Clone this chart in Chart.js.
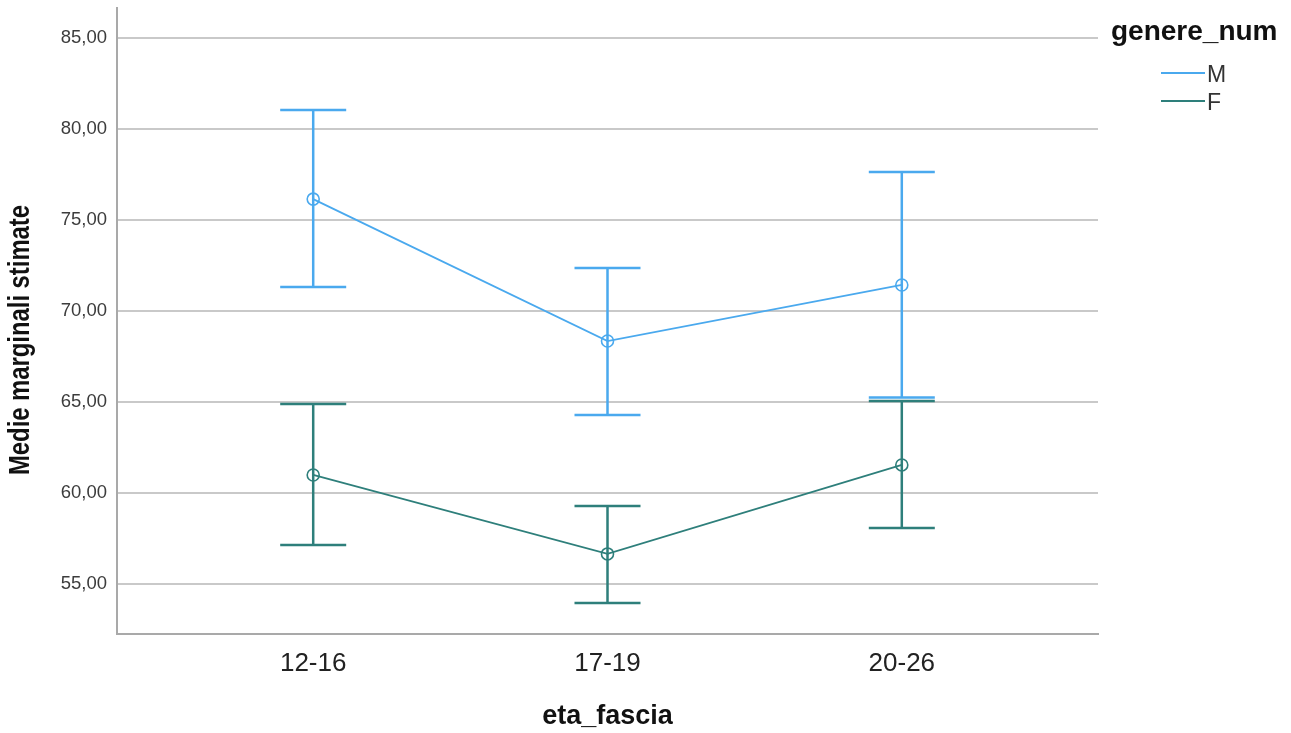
<!DOCTYPE html>
<html>
<head>
<meta charset="utf-8">
<title>Medie marginali stimate</title>
<script src="https://cdn.jsdelivr.net/npm/chart.js@4.4.1/dist/chart.umd.min.js"></script>
<style>
  html, body { margin: 0; padding: 0; background: #ffffff; }
  #wrap { width: 1291px; height: 733px; position: relative; }
</style>
</head>
<body>
<div id="wrap"><canvas id="c" width="1291" height="733"></canvas></div>
<script>
// Age bands on the x axis
const categories = ['12-16', '17-19', '20-26'];
const seriesNames = ['M', 'F'];

// Estimated marginal means with 95% CI bounds, per gender
const meanM = [76.15, 68.35, 71.43];
const lowM  = [71.32, 64.29, 65.25];
const highM = [81.04, 72.36, 77.64];

const meanF = [60.99, 56.65, 61.54];
const lowF  = [57.14, 53.96, 58.08];
const highF = [64.89, 59.29, 65.05];

// Y tick values
const yTicks = [55, 60, 65, 70, 75, 80, 85];

const colorM = '#4aa9ee';
const colorF = '#2e7f7b';

function toPoints(means) {
  return means.map((v, i) => ({ x: i + 1, y: v }));
}

const ciBounds = [
  { low: lowM, high: highM },
  { low: lowF, high: highF }
];

// Error bars drawn beneath the lines and markers
const errorBars = {
  id: 'errorBars',
  beforeDatasetsDraw(chart) {
    const ctx = chart.ctx;
    const xs = chart.scales.x, ys = chart.scales.y;
    const half = 33;
    chart.data.datasets.forEach((ds, di) => {
      const b = ciBounds[di];
      ctx.save();
      ctx.strokeStyle = ds.borderColor;
      ctx.lineWidth = 2.5;
      ds.data.forEach((p, i) => {
        const x = xs.getPixelForValue(p.x);
        const yl = ys.getPixelForValue(b.low[i]);
        const yh = ys.getPixelForValue(b.high[i]);
        ctx.beginPath();
        ctx.moveTo(x, yl); ctx.lineTo(x, yh);
        ctx.moveTo(x - half, yl); ctx.lineTo(x + half, yl);
        ctx.moveTo(x - half, yh); ctx.lineTo(x + half, yh);
        ctx.stroke();
      });
      ctx.restore();
    });
  }
};

// Axis titles and the legend block on the right
const decorations = {
  id: 'decorations',
  afterDraw(chart) {
    const ctx = chart.ctx;
    ctx.save();
    ctx.fillStyle = '#111111';
    ctx.textAlign = 'center';
    ctx.textBaseline = 'middle';
    ctx.font = 'bold 27px "Liberation Sans", Arial, sans-serif';
    ctx.fillText('eta_fascia', (chart.chartArea.left + chart.chartArea.right) / 2, 717);

    ctx.save();
    ctx.translate(21, 340);
    ctx.rotate(-Math.PI / 2);
    ctx.font = 'bold 29px "Liberation Sans Narrow", "Liberation Sans", Arial, sans-serif';
    ctx.fillText('Medie marginali stimate', 0, 0, 270);
    ctx.restore();

    // legend
    ctx.textAlign = 'left';
    ctx.textBaseline = 'alphabetic';
    ctx.font = 'bold 28px "Liberation Sans", Arial, sans-serif';
    ctx.fillText('genere_num', 1111, 40);
    ctx.font = '23px "Liberation Sans", Arial, sans-serif';
    ctx.fillStyle = '#333333';
    ctx.textBaseline = 'middle';
    chart.data.datasets.forEach((ds, i) => {
      const y = 73 + i * 28;
      ctx.strokeStyle = ds.borderColor;
      ctx.lineWidth = 2;
      ctx.beginPath();
      ctx.moveTo(1161, y);
      ctx.lineTo(1205, y);
      ctx.stroke();
      ctx.fillText(ds.label, 1207, y + 3);
    });
    ctx.restore();
  }
};

new Chart(document.getElementById('c'), {
  type: 'line',
  data: {
    datasets: [
      {
        label: seriesNames[0],
        data: toPoints(meanM),
        borderColor: colorM,
        backgroundColor: 'rgba(0,0,0,0)',
        borderWidth: 1.8,
        pointRadius: 6,
        pointBorderWidth: 1.6,
        pointBackgroundColor: 'rgba(0,0,0,0)',
        pointBorderColor: colorM,
        tension: 0
      },
      {
        label: seriesNames[1],
        data: toPoints(meanF),
        borderColor: colorF,
        backgroundColor: 'rgba(0,0,0,0)',
        borderWidth: 1.8,
        pointRadius: 6,
        pointBorderWidth: 1.6,
        pointBackgroundColor: 'rgba(0,0,0,0)',
        pointBorderColor: colorF,
        tension: 0
      }
    ]
  },
  options: {
    responsive: false,
    animation: false,
    events: [],
    layout: { padding: { left: 0, top: 8, right: 193, bottom: 0 } },
    plugins: { legend: { display: false }, tooltip: { enabled: false } },
    scales: {
      x: {
        type: 'linear',
        min: 1 / 3,
        max: 3 + 2 / 3,
        afterBuildTicks(scale) {
          scale.ticks = categories.map((c, i) => ({ value: i + 1 }));
        },
        afterFit(scale) {
          scale.height = 99;
          scale.paddingLeft = 0;
          scale.paddingRight = 0;
        },
        grid: { display: false, drawTicks: false },
        border: { display: true, color: '#a9a9a9', width: 2 },
        ticks: {
          padding: 14,
          color: '#222222',
          font: { family: '"Liberation Sans", Arial, sans-serif', size: 26 },
          callback: (v) => categories[Math.round(v) - 1] ?? ''
        }
      },
      y: {
        type: 'linear',
        min: 52.25,
        max: 86.65,
        afterBuildTicks(scale) {
          scale.ticks = yTicks.map(v => ({ value: v }));
        },
        afterFit(scale) {
          scale.width = 117;
          scale.paddingTop = 0;
          scale.paddingBottom = 0;
        },
        grid: { color: '#c9c9c9', lineWidth: 2, drawTicks: false },
        border: { display: true, color: '#a9a9a9', width: 2 },
        ticks: {
          padding: 10,
          color: '#3c3c3c',
          font: { family: '"Liberation Sans", Arial, sans-serif', size: 18.5 },
          callback: (v) => v.toFixed(2).replace('.', ',')
        }
      }
    }
  },
  plugins: [errorBars, decorations]
});
</script>
</body>
</html>
